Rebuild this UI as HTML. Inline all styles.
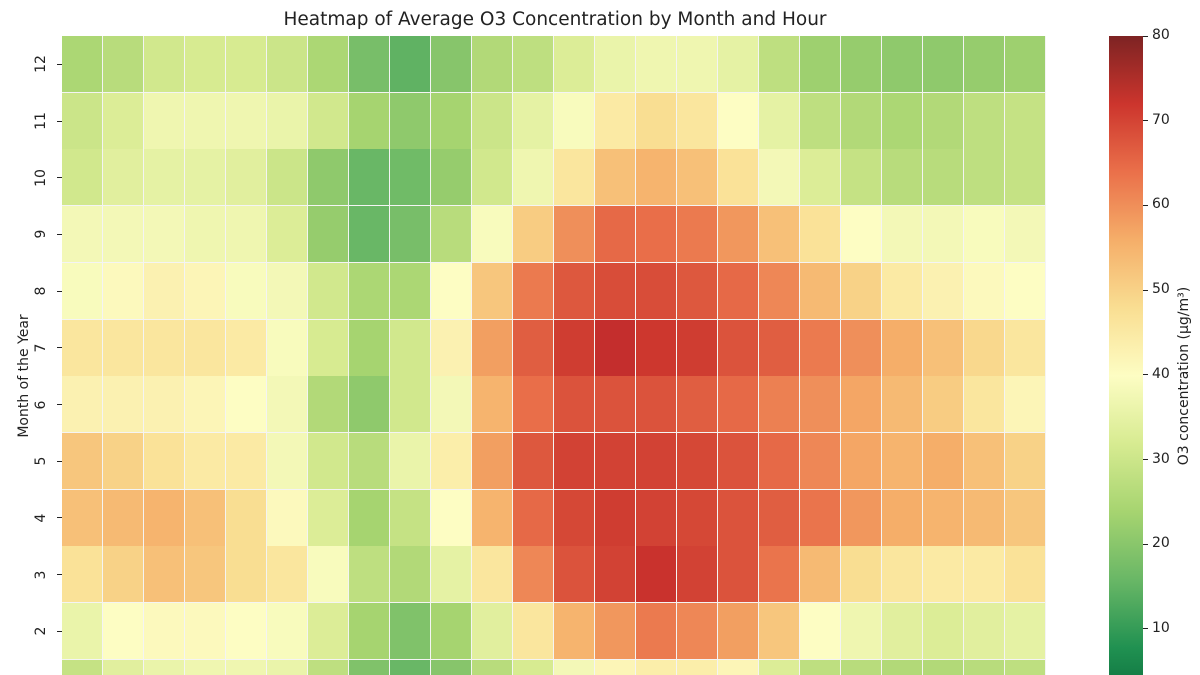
<!DOCTYPE html>
<html><head><meta charset="utf-8"><style>
html,body{margin:0;width:1200px;height:675px;overflow:hidden;background:#fff;font-family:"Liberation Sans","DejaVu Sans",sans-serif;position:relative}
#g{position:absolute;left:62px;top:36px;width:984px;height:639px;overflow:hidden}
.c{position:absolute;box-sizing:border-box;border-right:1px solid #f4f4f4;border-bottom:1px solid #f4f4f4}
.t{position:absolute;font-size:14px;color:#222;font-family:"DejaVu Sans",sans-serif}
.yl{transform:translate(-50%,-50%) rotate(-90deg);white-space:nowrap}
#cb{position:absolute;left:1109px;top:36px;width:34px;height:639px;background-size:34px 680px;background-repeat:no-repeat}
</style></head><body>
<div class="t" style="left:0;width:1110px;top:9px;text-align:center;font-size:18.5px">Heatmap of Average O3 Concentration by Month and Hour</div>
<div class="t yl" style="left:24px;top:376px;font-size:14px">Month of the Year</div>
<div class="t yl" style="left:1184px;top:376px;font-size:14px">O3 concentration (µg/m³)</div>
<div id="g"></div>
<div id="cb"></div>
<div id="lab"></div>
<script>
(function(){
var stops=["006837","1a9850","66bd63","a6d96a","d9ef8b","ffffbf","fee08b","fdae61","f46d43","d73027","a50026"].map(function(h){return [parseInt(h.substr(0,2),16),parseInt(h.substr(2,2),16),parseInt(h.substr(4,2),16)]});
function col(v,nd){var t=Math.max(0,Math.min(1,v/80))*10;var i=Math.min(9,Math.floor(t));var f=t-i;var a=stops[i],b=stops[i+1];var c=[0,1,2].map(function(k){return a[k]+(b[k]-a[k])*f});if(!nd){var g=(c[0]+c[1]+c[2])/3;c=c.map(function(x){return Math.round(x*0.9+g*0.1)})}else c=c.map(Math.round);return "rgb("+c.join(",")+")";}
var D={
12:[25,27,31,32,32,30,25,18,15,20,26,28,33,36,37,37,35,28,23,22,21,21,22,23],
11:[30,33,37,37,37,36,31,24,21,24,30,35,39,45,48,46,40,35,28,26,25,26,28,29],
10:[31,34,35,35,34,30,21,16,17,22,31,37,46,53,55,53,47,38,33,29,27,27,28,29],
9:[38,38,38,37,37,33,22,16,18,27,39,51,60,66,65,63,59,53,47,40,38,38,39,38],
8:[39,41,43,42,39,38,31,25,25,40,52,63,69,71,71,69,66,61,54,50,45,43,41,40],
7:[46,46,46,46,45,39,32,24,31,43,58,68,74,77,75,74,70,68,63,60,56,53,49,46],
6:[43,43,43,42,40,38,26,21,31,38,55,65,70,70,70,68,66,62,60,57,54,51,46,42],
5:[52,50,47,45,45,38,31,27,36,44,58,69,73,73,73,72,70,66,61,57,55,56,53,50],
4:[53,54,55,53,48,41,33,24,29,40,55,66,72,74,73,72,70,68,64,59,56,55,54,52],
3:[47,50,53,52,48,46,39,28,26,35,46,61,70,73,76,73,70,64,54,48,46,45,45,47],
2:[36,40,41,41,40,39,33,24,19,24,34,46,55,59,63,61,58,52,40,37,34,33,34,35],
1:[29,34,36,37,37,36,28,19,16,20,27,32,38,42,44,44,42,33,28,27,26,26,27,28]};
function adj(v){return v>62?62+(v-62)*0.75:v;}
var g=document.getElementById("g"),h="",cw=41,rh=56.7;
for(var m=12;m>=1;m--){var r=12-m;var ty=r*rh;var hh=Math.min(rh+0.3,639-ty);var bb=(m==1)?"border-bottom:none;":"";for(var k=0;k<24;k++){h+='<div class="c" style="left:'+(k*cw)+'px;top:'+ty.toFixed(1)+'px;width:'+cw+'px;height:'+hh.toFixed(1)+'px;'+bb+'background:'+col(adj(D[m][k]))+'"></div>';}}
g.innerHTML=h;
var gs=[];for(var i=0;i<=10;i++){gs.push(col(80-i*8)+" "+(i*10)+"%");}
gs[0]="rgb(125,35,35) 0%";
document.getElementById("cb").style.backgroundImage="linear-gradient(to bottom,"+gs.join(",")+")";
var L="";for(var m=12;m>=2;m--){var y=36+(12-m+0.5)*rh;L+='<div class="t yl" style="left:41px;top:'+y+'px">'+m+'</div><div style="position:absolute;left:57px;top:'+(y-0.5)+'px;width:5px;height:1px;background:#222"></div>';}
for(var v=80;v>=10;v-=10){var y=36+(80-v)*8.47;L+='<div style="position:absolute;left:1143px;top:'+(y-0.5)+'px;width:5px;height:1px;background:#222"></div><div class="t" style="left:1152px;top:'+(y-9)+'px">'+v+'</div>';}
document.getElementById("lab").innerHTML=L;
})();
</script>
</body></html>
